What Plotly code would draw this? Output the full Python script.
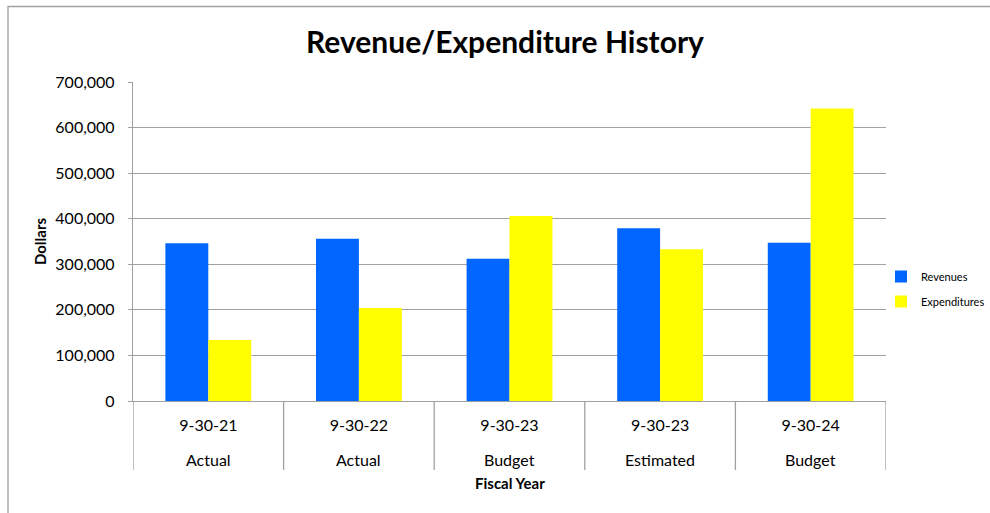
import plotly.graph_objects as go

dates = ["9-30-21", "9-30-22", "9-30-23", "9-30-23", "9-30-24"]
kinds = ["Actual", "Actual", "Budget", "Estimated", "Budget"]
revenues = [346000, 356000, 312000, 379000, 347000]
expenditures = [134000, 204000, 406000, 333000, 642000]

FONT = "Lato"
GRID = "#A0A0A0"
W, H = 990, 513
L, R, T, B = 133, 104, 82, 112
PW, PH = W - L - R, H - T - B
pos = list(range(len(dates)))

fig = go.Figure()
fig.add_trace(go.Bar(name="Revenues", x=pos, y=revenues, marker_color="#0066FF",
                     marker_line_width=0, legendgroup="r"))
fig.add_trace(go.Bar(name="Expenditures", x=pos, y=expenditures, marker_color="#FFFF00",
                     marker_line_width=0, legendgroup="e"))

fig.update_layout(
    width=W, height=H,
    margin=dict(l=L, r=R, t=T, b=B, autoexpand=False),
    paper_bgcolor="white", plot_bgcolor="white",
    font=dict(family=FONT, color="black", size=16),
    barmode="group", bargap=0.43, bargroupgap=0,
    title=dict(text="<b>Revenue/Expenditure History</b>", x=505 / W, xanchor="center",
               y=1 - 42 / H, yanchor="middle", font=dict(size=30, family=FONT)),
    legend=dict(x=(881 - L) / PW, y=(401 - 289) / PH, xanchor="left", yanchor="middle",
                font=dict(size=11, family=FONT), tracegroupgap=6,
                itemwidth=30, bgcolor="rgba(0,0,0,0)"),
    showlegend=True,
)
fig.update_yaxes(range=[0, 700000], dtick=100000, tickformat=",d",
                 showgrid=True, gridcolor=GRID, gridwidth=1.3,
                 showline=True, linecolor=GRID, linewidth=1.3,
                 ticks="outside", ticklen=4, tickcolor=GRID, ticklabelstandoff=10,
                 tickfont=dict(size=16), zeroline=False,
                 title=dict(text="<b>Dollars</b>", font=dict(size=15), standoff=5))
fig.update_xaxes(range=[-0.5, len(dates) - 0.5], tickmode="array", tickvals=pos,
                 ticktext=dates, showgrid=False, zeroline=False,
                 showline=True, linecolor=GRID, linewidth=1.3,
                 ticks="", ticklabelstandoff=10, tickfont=dict(size=16))

# second row of category labels
for i, k in enumerate(kinds):
    fig.add_annotation(x=i, y=(401 - 459) / PH, xref="x", yref="paper", text=k,
                       showarrow=False, font=dict(size=16), yanchor="middle")
# category dividers
for i in range(len(dates) + 1):
    fig.add_shape(type="line", xref="x", yref="paper", x0=i - 0.5, x1=i - 0.5,
                  y0=0, y1=(401 - 470) / PH, line=dict(color=GRID, width=1.3))
# axis title
fig.add_annotation(x=0.5, y=(401 - 483) / PH, xref="paper", yref="paper",
                   text="<b>Fiscal Year</b>", showarrow=False, font=dict(size=15),
                   yanchor="middle")
# chart border
fig.add_shape(type="rect", xref="paper", yref="paper",
              x0=(8 - L) / PW, x1=(W + 20 - L) / PW, y0=-(B + 20) / PH, y1=1 + (T - 6.5) / PH,
              line=dict(color=GRID, width=1.3), fillcolor="rgba(0,0,0,0)", layer="below")

fig.write_html("out.html", config={"displayModeBar": False},
               post_script="document.body.style.margin='0';")
